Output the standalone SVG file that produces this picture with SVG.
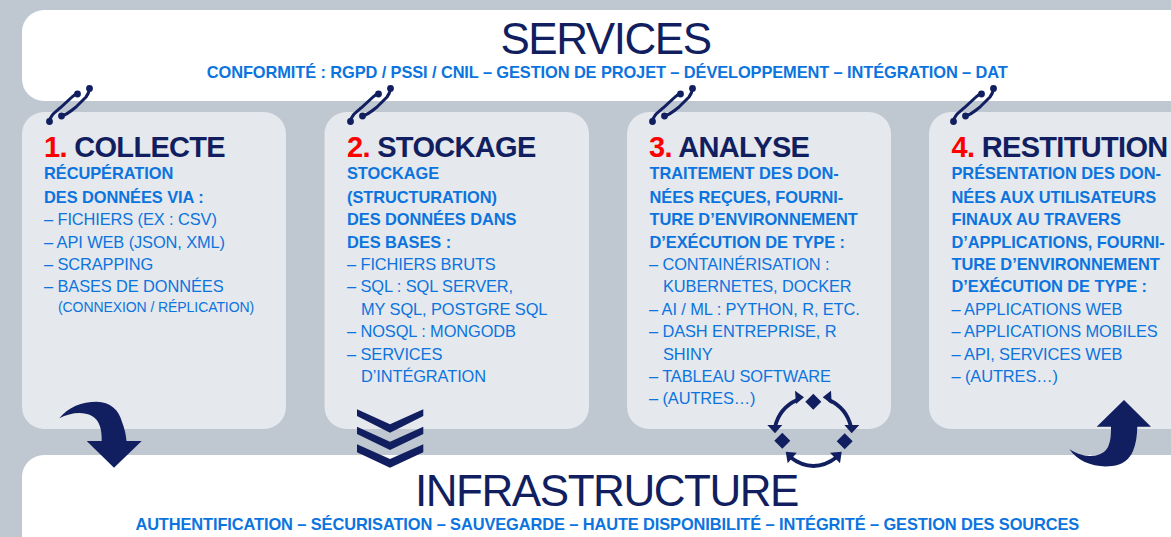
<svg xmlns="http://www.w3.org/2000/svg" width="1171" height="537" viewBox="0 0 1171 537">
<style>
text{font-family:"Liberation Sans",Arial,sans-serif}
.h{font-size:44px;fill:#111f60;letter-spacing:-1.45px}
.s{font-size:16.4px;font-weight:700;fill:#0b74de;letter-spacing:-.1px}
.t{font-size:29px;font-weight:700;fill:#111f60;letter-spacing:-.68px}
.n{fill:#f00}
.b{font-size:16.4px;font-weight:700;fill:#0b74de;letter-spacing:-.06px}
.r{font-size:16.4px;fill:#0b74de;letter-spacing:-.1px}
.m{font-size:14px;fill:#0b74de;letter-spacing:-.08px}
.p{fill:#e5e8ec}
.d{fill:#111f60}
.l{fill:none;stroke:#111f60;stroke-width:3;stroke-linecap:round}
.a{fill:none;stroke:#111f60;stroke-width:3.8}
</style>
<defs>
<g id="link">
<path class="l" d="M49.5 121.5C50 116 54 113 60 108L72 97Q75 94 77.5 94"/>
<circle class="d" cx="49.500" cy="121.500" r="3.400"/><circle class="d" cx="77.500" cy="94" r="3.400"/>
<path class="l" d="M61.5 116C66 115 70 112 76 107L86 97Q89 93 89.5 88.5"/>
<circle class="d" cx="61.500" cy="116" r="3.400"/><circle class="d" cx="89.500" cy="88.500" r="3.400"/>
</g>
</defs>
<rect width="1171" height="537" fill="#bfc7d1"/>
<g id="services">
<rect x="22" y="10" width="1200" height="91" rx="22" fill="#fff"/>
<text class="h" x="605.500" y="54" text-anchor="middle">SERVICES</text>
<text class="s" x="607.300" y="78" text-anchor="middle">CONFORMITÉ : RGPD / PSSI / CNIL – GESTION DE PROJET – DÉVELOPPEMENT – INTÉGRATION – DAT</text>
</g>
<g id="infrastructure">
<rect x="22" y="455" width="1200" height="120" rx="22" fill="#fff"/>
<text class="h" x="606.500" y="506" text-anchor="middle">INFRASTRUCTURE</text>
<text class="s" x="607.300" y="530" text-anchor="middle">AUTHENTIFICATION – SÉCURISATION – SAUVEGARDE – HAUTE DISPONIBILITÉ – INTÉGRITÉ – GESTION DES SOURCES</text>
</g>
<g id="collecte">
<rect class="p" x="22" y="112" width="264" height="317" rx="22"/>
<text class="t" x="44" y="157"><tspan class="n">1.</tspan> COLLECTE</text>
<text class="b" x="44" y="179">RÉCUPÉRATION</text>
<text class="b" x="44" y="203">DES DONNÉES VIA :</text>
<text class="r" x="44" y="225">– FICHIERS (EX : CSV)</text>
<text class="r" x="44" y="248">– API WEB (JSON, XML)</text>
<text class="r" x="44" y="270">– SCRAPPING</text>
<text class="r" x="44" y="292">– BASES DE DONNÉES</text>
<text class="m" x="58" y="312">(CONNEXION / RÉPLICATION)</text>
<use href="#link"/>
<path class="d" d="M59.300 418.300C68 407 82 401.700 96.700 401.700C110 401.700 119 410 122 422C125 430 126 435 126.500 441L141.700 441L114 467.700L86.700 441L101.700 441C102 428 99 420 92 416C82 411 70 413 59.300 418.300Z"/>
</g>
<g id="stockage">
<rect class="p" x="324.500" y="112" width="264.500" height="317" rx="22"/>
<text class="t" x="347" y="157"><tspan class="n">2.</tspan> STOCKAGE</text>
<text class="b" x="347" y="179">STOCKAGE</text>
<text class="b" x="347" y="203">(STRUCTURATION)</text>
<text class="b" x="347" y="225">DES DONNÉES DANS</text>
<text class="b" x="347" y="248">DES BASES :</text>
<text class="r" x="347" y="270">– FICHIERS BRUTS</text>
<text class="r" x="347" y="292">– SQL : SQL SERVER,</text>
<text class="r" x="361" y="315">MY SQL, POSTGRE SQL</text>
<text class="r" x="347" y="337">– NOSQL : MONGODB</text>
<text class="r" x="347" y="360">– SERVICES</text>
<text class="r" x="361" y="382">D’INTÉGRATION</text>
<use href="#link" x="301"/>
<path class="d" d="M357 409.300L390 424.300L423.300 409.300V416L390 432.700L357 416ZM357 426.700L390 441.700L423.300 426.700V434L390 450L357 434ZM357 444.300L390 459L423.300 444.300V452.300L390 467.700L357 452.300Z"/>
</g>
<g id="analyse">
<rect class="p" x="627" y="112" width="264" height="317" rx="22"/>
<text class="t" x="649" y="157"><tspan class="n">3.</tspan> ANALYSE</text>
<text class="b" x="649.500" y="179">TRAITEMENT DES DON-</text>
<text class="b" x="649.500" y="203">NÉES REÇUES, FOURNI-</text>
<text class="b" x="649.500" y="225">TURE D’ENVIRONNEMENT</text>
<text class="b" x="649.500" y="248">D’EXÉCUTION DE TYPE :</text>
<text class="r" x="649" y="270">– CONTAINÉRISATION :</text>
<text class="r" x="663" y="292">KUBERNETES, DOCKER</text>
<text class="r" x="649" y="315">– AI / ML : PYTHON, R, ETC.</text>
<text class="r" x="649" y="337">– DASH ENTREPRISE, R</text>
<text class="r" x="663" y="360">SHINY</text>
<text class="r" x="649" y="382">– TABLEAU SOFTWARE</text>
<text class="r" x="649" y="404">– (AUTRES…)</text>
<use href="#link" x="603"/>
<path class="d" d="M813.300 393.700L821.300 401.700L813.300 409.700L805.300 401.700ZM782.300 432.700L790.300 440.700L782.300 448.700L774.300 440.700ZM844.700 433.300L852.700 441.300L844.700 449.300L836.700 441.300Z"/>
<path class="a" d="M775 427C778 414 786 405 797 400M851 427C848 414 840 405 829 400M790 457Q813.500 475 837 457"/>
<path class="d" d="M795 390.700L804 397.300L796 404ZM831 390.700L822.700 397.300L831.700 404ZM767.300 425L782.300 425L775 433.300ZM844.300 425L859.300 425L851.700 433.300ZM785.700 451.700L796.700 452.700L787.700 463.300ZM841.700 451.700L830 452.700L840 463.300Z"/>
</g>
<g id="restitution">
<rect class="p" x="929" y="112" width="264" height="317" rx="22"/>
<text class="t" x="951.500" y="157"><tspan class="n">4.</tspan> RESTITUTION</text>
<text class="b" x="951.500" y="179">PRÉSENTATION DES DON-</text>
<text class="b" x="951.500" y="203">NÉES AUX UTILISATEURS</text>
<text class="b" x="951.500" y="225">FINAUX AU TRAVERS</text>
<text class="b" x="951.500" y="248">D’APPLICATIONS, FOURNI-</text>
<text class="b" x="951.500" y="270">TURE D’ENVIRONNEMENT</text>
<text class="b" x="951.500" y="292">D’EXÉCUTION DE TYPE :</text>
<text class="r" x="951.500" y="315">– APPLICATIONS WEB</text>
<text class="r" x="951.500" y="337">– APPLICATIONS MOBILES</text>
<text class="r" x="951.500" y="360">– API, SERVICES WEB</text>
<text class="r" x="951.500" y="382">– (AUTRES…)</text>
<use href="#link" x="904"/>
<path class="d" d="M1069.300 449C1075 453 1083 456 1090 456C1098 456 1105 453 1108 447C1111 440 1111 434 1111 426.700L1096.700 426.700L1124 400L1151 426.700L1137.300 426.700C1137 436 1136 444 1133 451C1129 460 1122 465 1112 466C1095 468 1078 462 1069.300 449Z"/>
</g>
</svg>
